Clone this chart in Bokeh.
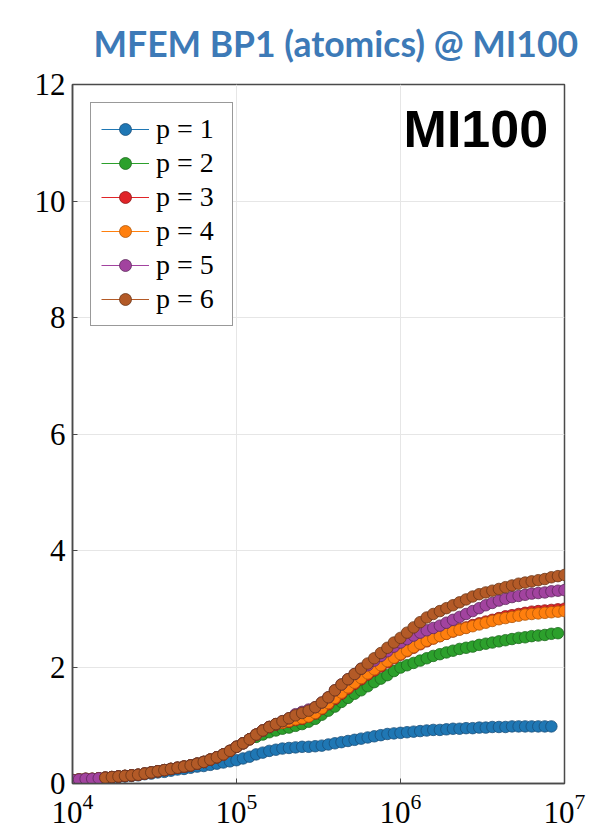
from bokeh.plotting import figure
from bokeh.models import FixedTicker, LogTickFormatter, Legend, LegendItem, Label, Title, ColumnDataSource
from bokeh.embed import file_html
from bokeh.resources import INLINE

# ---- data ----
# sample positions: log10 of the problem size
log_x = [4.00, 4.04, 4.08, 4.12, 4.16, 4.20, 4.24, 4.28, 4.32, 4.36,
         4.40, 4.44, 4.48, 4.52, 4.56, 4.60, 4.64, 4.68, 4.72, 4.76,
         4.80, 4.84, 4.88, 4.92, 4.96, 5.00, 5.04, 5.08, 5.12, 5.16,
         5.20, 5.24, 5.28, 5.32, 5.36, 5.40, 5.44, 5.48, 5.52, 5.56,
         5.60, 5.64, 5.68, 5.72, 5.76, 5.80, 5.84, 5.88, 5.92, 5.96,
         6.00, 6.04, 6.08, 6.12, 6.16, 6.20, 6.24, 6.28, 6.32, 6.36,
         6.40, 6.44, 6.48, 6.52, 6.56, 6.60, 6.64, 6.68, 6.72, 6.76,
         6.80, 6.84, 6.88, 6.92, 6.96, 7.00]

p1 = [0.05, 0.06, 0.07, 0.07, 0.08, 0.09, 0.10, 0.11, 0.12, 0.13,
      0.14, 0.16, 0.17, 0.19, 0.20, 0.22, 0.24, 0.25, 0.27, 0.29,
      0.30, 0.32, 0.34, 0.36, 0.38, 0.40, 0.43, 0.46, 0.50, 0.53,
      0.56, 0.58, 0.60, 0.61, 0.62, 0.63, 0.63, 0.64, 0.65, 0.67,
      0.69, 0.71, 0.73, 0.75, 0.77, 0.79, 0.81, 0.83, 0.85, 0.86,
      0.87, 0.88, 0.89, 0.90, 0.91, 0.92, 0.92, 0.93, 0.94, 0.94,
      0.95, 0.95, 0.96, 0.96, 0.97, 0.97, 0.97, 0.98, 0.98, 0.98,
      0.98, 0.98, 0.98, 0.98]

p2 = [0.06, 0.07, 0.08, 0.08, 0.09, 0.10, 0.11, 0.12, 0.13, 0.14,
      0.15, 0.17, 0.19, 0.21, 0.23, 0.25, 0.27, 0.29, 0.31, 0.34,
      0.37, 0.41, 0.45, 0.50, 0.56, 0.63, 0.69, 0.76, 0.80, 0.84,
      0.88, 0.91, 0.94, 0.96, 0.99, 1.02, 1.06, 1.11, 1.18, 1.25,
      1.32, 1.40, 1.47, 1.54, 1.60, 1.67, 1.74, 1.80, 1.86, 1.93,
      1.99, 2.03, 2.07, 2.11, 2.15, 2.19, 2.22, 2.25, 2.28, 2.31,
      2.33, 2.35, 2.38, 2.40, 2.42, 2.44, 2.46, 2.48, 2.50, 2.51,
      2.53, 2.54, 2.55, 2.57, 2.58]

p3 = [0.06, 0.07, 0.08, 0.08, 0.09, 0.10, 0.11, 0.12, 0.13, 0.14,
      0.15, 0.17, 0.19, 0.21, 0.23, 0.25, 0.27, 0.29, 0.31, 0.34,
      0.37, 0.41, 0.45, 0.50, 0.56, 0.63, 0.69, 0.76, 0.84, 0.91,
      0.97, 1.01, 1.04, 1.06, 1.09, 1.11, 1.15, 1.20, 1.28, 1.36,
      1.45, 1.54, 1.63, 1.71, 1.79, 1.87, 1.94, 2.01, 2.08, 2.15,
      2.21, 2.27, 2.33, 2.39, 2.44, 2.49, 2.53, 2.57, 2.61, 2.65,
      2.68, 2.72, 2.75, 2.78, 2.81, 2.84, 2.87, 2.89, 2.91, 2.93,
      2.95, 2.96, 2.97, 2.98, 2.99, 3.00]

p4 = [0.06, 0.07, 0.08, 0.08, 0.09, 0.10, 0.11, 0.12, 0.13, 0.14,
      0.15, 0.17, 0.19, 0.21, 0.23, 0.25, 0.27, 0.29, 0.31, 0.34,
      0.37, 0.41, 0.45, 0.50, 0.56, 0.63, 0.69, 0.76, 0.84, 0.91,
      0.97, 1.02, 1.04, 1.07, 1.10, 1.12, 1.15, 1.21, 1.29, 1.38,
      1.47, 1.56, 1.65, 1.73, 1.81, 1.89, 1.96, 2.03, 2.10, 2.16,
      2.22, 2.28, 2.34, 2.40, 2.45, 2.49, 2.53, 2.57, 2.61, 2.64,
      2.67, 2.70, 2.73, 2.76, 2.79, 2.82, 2.84, 2.86, 2.88, 2.90,
      2.91, 2.92, 2.93, 2.94, 2.95, 2.96]

p5 = [0.06, 0.07, 0.08, 0.08, 0.09, 0.10, 0.11, 0.12, 0.13, 0.14,
      0.15, 0.17, 0.19, 0.21, 0.23, 0.25, 0.27, 0.29, 0.31, 0.34,
      0.37, 0.41, 0.45, 0.50, 0.56, 0.63, 0.69, 0.76, 0.84, 0.91,
      0.97, 1.02, 1.07, 1.12, 1.19, 1.23, 1.27, 1.31, 1.39, 1.48,
      1.60, 1.70, 1.79, 1.88, 1.97, 2.03, 2.11, 2.19, 2.27, 2.35,
      2.42, 2.48, 2.54, 2.59, 2.63, 2.67, 2.71, 2.76, 2.81, 2.86,
      2.91, 2.96, 3.01, 3.06, 3.10, 3.14, 3.17, 3.20, 3.22, 3.24,
      3.26, 3.27, 3.28, 3.30, 3.31, 3.32]

p6 = [0.10, 0.11, 0.12, 0.13, 0.14,
      0.15, 0.17, 0.19, 0.21, 0.23, 0.25, 0.27, 0.29, 0.31, 0.34,
      0.37, 0.41, 0.45, 0.50, 0.56, 0.63, 0.69, 0.76, 0.84, 0.91,
      0.97, 1.02, 1.07, 1.12, 1.17, 1.21, 1.25, 1.31, 1.39, 1.48,
      1.60, 1.70, 1.79, 1.88, 1.97, 2.06, 2.15, 2.24, 2.33, 2.42,
      2.50, 2.59, 2.68, 2.77, 2.85, 2.91, 2.96, 3.01, 3.06, 3.11,
      3.16, 3.21, 3.25, 3.28, 3.31, 3.34, 3.37, 3.40, 3.43, 3.45,
      3.47, 3.49, 3.51, 3.54, 3.56, 3.58]

series = [p1, p2, p3, p4, p5, p6]
first_index = [0, 0, 0, 0, 0, 5]
labels = ["p = 1", "p = 2", "p = 3", "p = 4", "p = 5", "p = 6"]
fills = ["#1f77b4", "#2ca02c", "#e02428", "#ff7f0e", "#a2439f", "#b35a27"]
edges = ["#1b4f7a", "#1d6a1d", "#8e1616", "#b0570a", "#5e2a5c", "#6b3516"]

y_ticks = [0, 2, 4, 6, 8, 10, 12]
x_ticks = [1e4, 1e5, 1e6, 1e7]

# ---- figure ----
p = figure(x_axis_type="log", x_range=(1e4, 1e7), y_range=(0, 12),
           frame_width=492, frame_height=699,
           min_border_left=72, min_border_right=31, min_border_top=84, min_border_bottom=50,
           output_backend="svg", toolbar_location=None)

p.title = Title(text="MFEM BP1 (atomics) @ MI100", align="left", offset=21,
                text_font="Lato", text_font_style="bold", text_font_size="35.5px",
                text_color="#3d7ab7", standoff=39)

frame_col = "#4a4a4a"
p.outline_line_color = frame_col
p.outline_line_width = 1.5
p.background_fill_color = "white"
p.border_fill_color = "white"

p.xaxis.ticker = FixedTicker(ticks=x_ticks)
p.xaxis.formatter = LogTickFormatter()
p.yaxis.ticker = FixedTicker(ticks=y_ticks)
for ax in (p.xaxis[0], p.yaxis[0]):
    ax.major_label_text_font = "Liberation Serif"
    ax.major_label_text_font_size = "31px"
    ax.major_label_text_color = "black"
    ax.major_tick_in = 5
    ax.major_tick_out = 0
    ax.major_tick_line_color = frame_col
    ax.minor_tick_line_color = None
    ax.axis_line_color = frame_col
    ax.axis_line_width = 1.5
p.xaxis.major_label_standoff = 10
p.yaxis.major_label_standoff = 7

p.xgrid.grid_line_color = "#e6e6e6"
p.ygrid.grid_line_color = "#e6e6e6"
p.xgrid.grid_line_width = 1
p.ygrid.grid_line_width = 1

items = []
for vals, start, lab, fc, ec in zip(series, first_index, labels, fills, edges):
    xs = [10 ** e for e in log_x[start:start + len(vals)]]
    src = ColumnDataSource(dict(x=xs, y=vals))
    lr = p.line("x", "y", source=src, line_color=fc, line_width=1)
    sr = p.scatter("x", "y", source=src, size=11.5, fill_color=fc, line_color=ec, line_width=0.8)
    items.append(LegendItem(label=lab, renderers=[lr, sr]))

legend = Legend(items=items, location="top_left", margin=18,
                label_text_font="Liberation Serif", label_text_font_size="28px",
                label_text_color="black",
                glyph_width=48, glyph_height=30, label_height=30, label_width=66,
                spacing=2, padding=10, label_standoff=7,
                border_line_color="#333333", border_line_width=1.5,
                background_fill_color="white", background_fill_alpha=1.0)
p.add_layout(legend)

p.add_layout(Label(x=10 ** 6.90, y=11.24, text="MI100", text_align="right",
                   text_baseline="alphabetic", text_font="Liberation Sans",
                   text_font_style="bold", text_font_size="52px", text_color="black"))

open("out.html", "w").write(file_html(p, INLINE))
